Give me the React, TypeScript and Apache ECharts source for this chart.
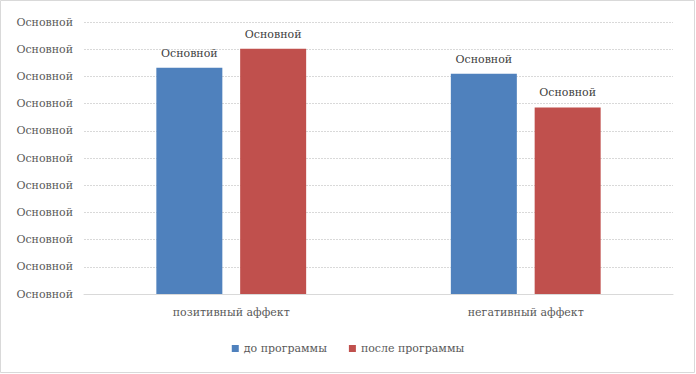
import React, { useEffect, useRef } from "react";
import * as echarts from "echarts";

const categories = ["позитивный аффект", "негативный аффект"];
const seriesNames = ["до программы", "после программы"];
const before = [8.32, 8.1];
const after = [9.02, 6.86];
const yTickLabel = "Основной";

export default function App() {
  const ref = useRef<HTMLDivElement>(null);
  useEffect(() => {
    if (!ref.current) return;
    const chart = echarts.init(ref.current, null, { renderer: "svg" });
    const font = "'DejaVu Serif', serif";
    const labelCommon = {
      show: true,
      position: "top",
      distance: 9,
      color: "#404040",
      fontFamily: font,
      fontSize: 11,
      fontWeight: "normal",
      formatter: () => yTickLabel,
    };
    chart.setOption({
      animation: false,
      backgroundColor: "#ffffff",
      graphic: [
        {
          type: "rect",
          shape: { x: 0.5, y: 0.5, width: 694, height: 372 },
          style: { fill: "none", stroke: "#d9d9d9", lineWidth: 1 },
          silent: true,
        },
      ],
      grid: { left: 84, right: 23, top: 22, bottom: 80 },
      legend: {
        bottom: 15,
        left: "center",
        itemWidth: 7,
        itemHeight: 7,
        itemGap: 22,
        icon: "rect",
        textStyle: { color: "#595959", fontFamily: font, fontSize: 11 },
        data: seriesNames,
      },
      xAxis: {
        type: "category",
        data: categories,
        axisLine: { show: true, lineStyle: { color: "#d9d9d9" } },
        axisTick: { show: false },
        axisLabel: { color: "#595959", fontFamily: font, fontSize: 11, margin: 13 },
      },
      yAxis: {
        type: "value",
        min: 0,
        max: 10,
        interval: 1,
        axisLine: { show: false },
        axisTick: { show: false },
        axisLabel: {
          color: "#595959",
          fontFamily: font,
          fontSize: 11,
          margin: 11,
          formatter: () => yTickLabel,
        },
        splitLine: { lineStyle: { color: "#d9d9d9", type: [2, 1] } },
      },
      series: [
        {
          name: seriesNames[0],
          type: "bar",
          data: before,
          barWidth: 66,
          barGap: "27%",
          itemStyle: { color: "#4F81BD" },
          label: labelCommon,
        },
        {
          name: seriesNames[1],
          type: "bar",
          data: after,
          barWidth: 66,
          itemStyle: { color: "#C0504D" },
          label: labelCommon,
        },
      ],
    });
    return () => chart.dispose();
  }, []);
  return (
    <div
      ref={ref}
      style={{ position: "fixed", left: 0, top: 0, width: 696, height: 374 }}
    />
  );
}
